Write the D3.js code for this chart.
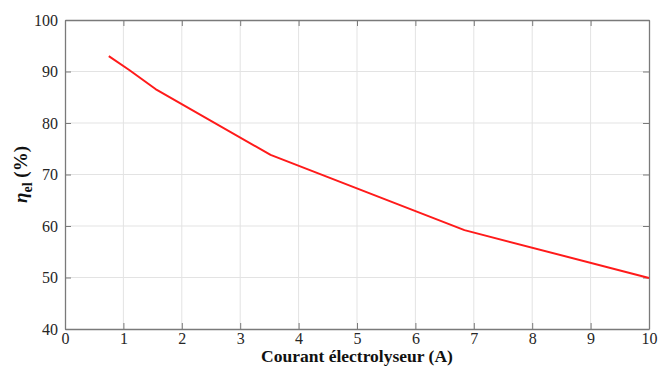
<!DOCTYPE html>
<html><head><meta charset="utf-8">
<script src="https://cdn.jsdelivr.net/npm/d3@7"></script>
<style>body{margin:0;background:#fff}svg{display:block}
.tk text{font-family:"Liberation Serif","Times New Roman",serif !important;font-size:16px !important;}
</style>
</head><body>
<svg id="c" width="658" height="367"></svg>
<script>
const current = [0.75, 1.1, 1.55, 3.52, 6.84, 10];
const efficiency = [93.0, 90.3, 86.6, 73.8, 59.2, 49.9];
const xTicks = [0,1,2,3,4,5,6,7,8,9,10];
const yTicks = [40,50,60,70,80,90,100];

const svg = d3.select("#c");
const L=65, R=649, T=20, B=329;
const x = d3.scaleLinear().domain([0,10]).range([L,R]);
const y = d3.scaleLinear().domain([40,100]).range([B,T]);
const font = "'Liberation Serif', 'Times New Roman', serif";

// grid
svg.append("g").selectAll("line").data(xTicks.slice(1,-1)).join("line")
  .attr("x1",d=>x(d)).attr("x2",d=>x(d)).attr("y1",T).attr("y2",B)
  .attr("stroke","#e3e3e3").attr("stroke-width",1);
svg.append("g").selectAll("line").data(yTicks.slice(1,-1)).join("line")
  .attr("y1",d=>y(d)).attr("y2",d=>y(d)).attr("x1",L).attr("x2",R)
  .attr("stroke","#e3e3e3").attr("stroke-width",1);

// axes
const axStyle = g => {
  g.attr("class","tk");
  g.select(".domain").attr("stroke","#7a7a7a").attr("stroke-width",1.3);
  g.selectAll(".tick line").attr("stroke","#7a7a7a").attr("stroke-width",1);
  g.selectAll("text").style("font-family",font).style("font-size","16px").attr("fill","#262626");
};
svg.append("g").attr("transform",`translate(0,${B})`)
  .call(d3.axisBottom(x).tickValues(xTicks).tickSizeInner(-6).tickSizeOuter(0).tickPadding(4).tickFormat(d3.format("d")))
  .call(axStyle);
svg.append("g").attr("transform",`translate(${L},0)`)
  .call(d3.axisLeft(y).tickValues(yTicks).tickSizeInner(-6).tickSizeOuter(0).tickPadding(7).tickFormat(d3.format("d")))
  .call(axStyle);
svg.append("g").attr("transform",`translate(0,${T})`)
  .call(d3.axisTop(x).tickValues(xTicks).tickSizeInner(-6).tickSizeOuter(0).tickFormat(""))
  .call(axStyle);
svg.append("g").attr("transform",`translate(${R},0)`)
  .call(d3.axisRight(y).tickValues(yTicks).tickSizeInner(-6).tickSizeOuter(0).tickFormat(""))
  .call(axStyle);

// line
const data = current.map((c,i)=>({c, e: efficiency[i]}));
svg.append("path").datum(data)
  .attr("fill","none").attr("stroke","#ff1a1a").attr("stroke-width",2)
  .attr("stroke-linejoin","round")
  .attr("d", d3.line().x(d=>x(d.c)).y(d=>y(d.e)));

// labels
svg.append("text").attr("x",(L+R)/2).attr("y",362).attr("text-anchor","middle")
  .style("font-family",font).attr("font-size",17.5).attr("font-weight","bold").attr("fill","#111")
  .text("Courant électrolyseur (A)");
const yl = svg.append("text").attr("transform",`translate(27,${(T+B)/2}) rotate(-90)`)
  .attr("text-anchor","middle").style("font-family",font).attr("font-size",19).attr("font-weight","bold").attr("fill","#111");
yl.append("tspan").attr("font-style","italic").text("η");
yl.append("tspan").attr("font-size",14).attr("dy",5).text("el");
yl.append("tspan").attr("dy",-5).text(" (%)");
</script>
</body></html>
